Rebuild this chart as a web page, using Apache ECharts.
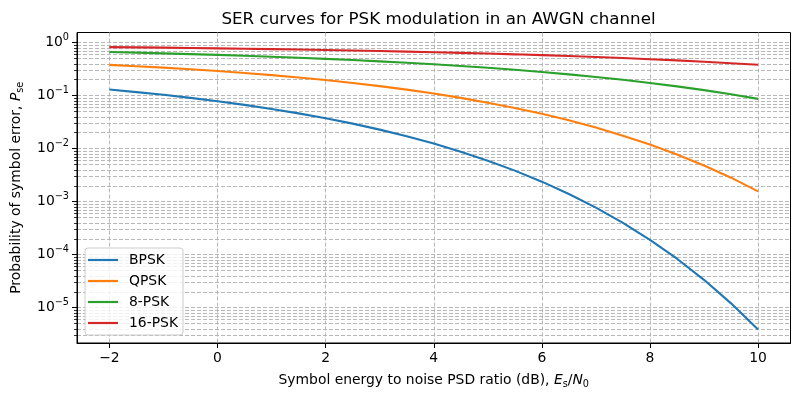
<!DOCTYPE html>
<html><head><meta charset="utf-8">
<script src="https://cdn.jsdelivr.net/npm/echarts@6/dist/echarts.min.js"></script>
<style>html,body{margin:0;padding:0;background:#fff}#c{width:800px;height:400px}</style>
</head><body><div id="c"></div>
<script>
// Es/N0 in dB
const snrDb = [-2,-1.5,-1,-0.5,0,0.5,1,1.5,2,2.5,3,3.5,4,4.5,5,5.5,6,6.5,7,7.5,8,8.5,9,9.5,10];
const bpsk = [0.1306,0.1170,0.1040,0.0909,0.0786,0.0671,0.0563,0.0464,0.0375,0.0297,0.0229,0.0172,0.0125,0.00879,0.00595,0.00386,0.00239,0.00140,0.000773,0.000399,0.000191,0.0000840,0.0000336,0.0000121,0.00000387];
const qpsk = [0.3814,0.3601,0.3381,0.3154,0.2922,0.2685,0.2447,0.2209,0.1972,0.1741,0.1516,0.1301,0.1098,0.0910,0.0739,0.0587,0.0455,0.0343,0.0251,0.01764,0.01198,0.00780,0.00482,0.00284,0.001565];
const psk8 = [0.6673,0.6489,0.6296,0.6094,0.5884,0.5665,0.5437,0.5201,0.4957,0.4705,0.4446,0.4181,0.3910,0.3636,0.3359,0.3080,0.2802,0.2527,0.2257,0.1994,0.1740,0.1499,0.1272,0.1062,0.0870];
const psk16 = [0.8265,0.8164,0.8058,0.7945,0.7826,0.7701,0.7569,0.7430,0.7283,0.7129,0.6967,0.6797,0.6619,0.6432,0.6237,0.6033,0.5820,0.5598,0.5368,0.5130,0.4883,0.4629,0.4368,0.4101,0.3830];
const seriesNames = ['BPSK','QPSK','8-PSK','16-PSK'];
const seriesColors = ['#1f77b4','#ff7f0e','#2ca02c','#d62728'];
const xTicks = [-2,0,2,4,6,8,10];
const yTicks = [1e-5,1e-4,1e-3,1e-2,1e-1,1];
const yMinorTicks = [];
for (let e = -6; e <= 0; e++) for (let m = 2; m <= 9; m++) {
  const v = +(m + 'e' + e);
  if (v > 2.16e-6 && v < 1.56) yMinorTicks.push(v);
}

const FONT = 'DejaVu Sans';
const FS = 13.9;
const grid = {color:'#b0b0b0', width:0.9, type:[4,2]};
const minus = n => (n < 0 ? '\u2212' + (-n) : '' + n);

const chart = echarts.init(document.getElementById('c'), null, {renderer:'canvas'});
const series = [bpsk, qpsk, psk8, psk16].map((arr, i) => ({
  name: seriesNames[i], type:'line', xAxisIndex:0, yAxisIndex:0,
  data: snrDb.map((x, j) => [x, arr[j]]),
  showSymbol:false, symbol:'none', smooth:false,
  lineStyle:{color:seriesColors[i], width:2.1}, itemStyle:{color:seriesColors[i]},
  z: 3
}));

chart.setOption({
  backgroundColor:'#fff',
  animation:false,
  title:{text:'SER curves for PSK modulation in an AWGN channel', left:433.5, top:6, textAlign:'center',
    textStyle:{fontFamily:FONT, fontSize:16.7, fontWeight:'normal', color:'#000'}},
  grid:{left:77, right:9.5, top:32.5, bottom:57, show:true, borderColor:'#000', borderWidth:1, backgroundColor:'transparent', containLabel:false, outerBoundsMode:'none'},
  legend:{data:seriesNames, orient:'vertical', left:85, top:248, icon:'rect', itemWidth:30, itemHeight:2.2, itemGap:7,
    padding:[5,5,5,3], backgroundColor:'rgba(255,255,255,0.8)', borderColor:'#cccccc', borderWidth:1, borderRadius:3,
    textStyle:{fontFamily:FONT, fontSize:FS, color:'#000', lineHeight:14, padding:[0,0,0,6]}},
  xAxis:[{type:'value', min:-2.6, max:10.6, gridIndex:0,
    name:'{t|Symbol energy to noise PSD ratio (dB), }{i|E}{s|s}{t|/}{i|N}{s|0}', nameLocation:'middle', nameGap:28,
    nameTextStyle:{rich:{
      t:{fontFamily:FONT, fontSize:FS, color:'#000', lineHeight:18},
      i:{fontFamily:FONT, fontStyle:'italic', fontSize:FS, color:'#000', lineHeight:18},
      s:{fontFamily:FONT, fontSize:9.7, color:'#000', lineHeight:10, verticalAlign:'bottom'}}},
    axisLine:{show:true, onZero:false, lineStyle:{color:'#000', width:1}},
    axisTick:{show:true, inside:false, length:5, customValues:xTicks, lineStyle:{color:'#000', width:1}},
    axisLabel:{customValues:xTicks, margin:8, fontFamily:FONT, fontSize:FS, color:'#000', formatter:v => minus(v)},
    splitLine:{show:true, lineStyle:grid}}],
  yAxis:[{type:'log', logBase:10, min:2.16e-6, max:1.557, gridIndex:0, position:'left',
    name:'{t|Probability of symbol error, }{i|P}{s|se}', nameLocation:'middle', nameGap:52,
    nameTextStyle:{rich:{
      t:{fontFamily:FONT, fontSize:FS, color:'#000', lineHeight:18},
      i:{fontFamily:FONT, fontStyle:'italic', fontSize:FS, color:'#000', lineHeight:18},
      s:{fontFamily:FONT, fontSize:9.7, color:'#000', lineHeight:10, verticalAlign:'bottom'}}},
    axisLine:{show:true, onZero:false, lineStyle:{color:'#000', width:1}},
    axisTick:{show:true, inside:false, length:5, customValues:yTicks, lineStyle:{color:'#000', width:1}},
    axisLabel:{customValues:yTicks, margin:8, formatter:v => '{b|10}{e|' + minus(Math.round(Math.log10(v))) + '}',
      rich:{b:{fontFamily:FONT, fontSize:FS, color:'#000', lineHeight:20},
            e:{fontFamily:FONT, fontSize:9.7, color:'#000', lineHeight:10, verticalAlign:'top'}}},
    splitLine:{show:true, lineStyle:grid}},
   {type:'log', logBase:10, min:2.16e-6, max:1.557, gridIndex:0, position:'left',
    axisLine:{show:false, onZero:false}, axisLabel:{show:false},
    axisTick:{show:true, inside:false, length:3, customValues:yMinorTicks, lineStyle:{color:'#000', width:0.8}},
    splitLine:{show:true, lineStyle:grid}}],
  series: series
});
</script></body></html>
